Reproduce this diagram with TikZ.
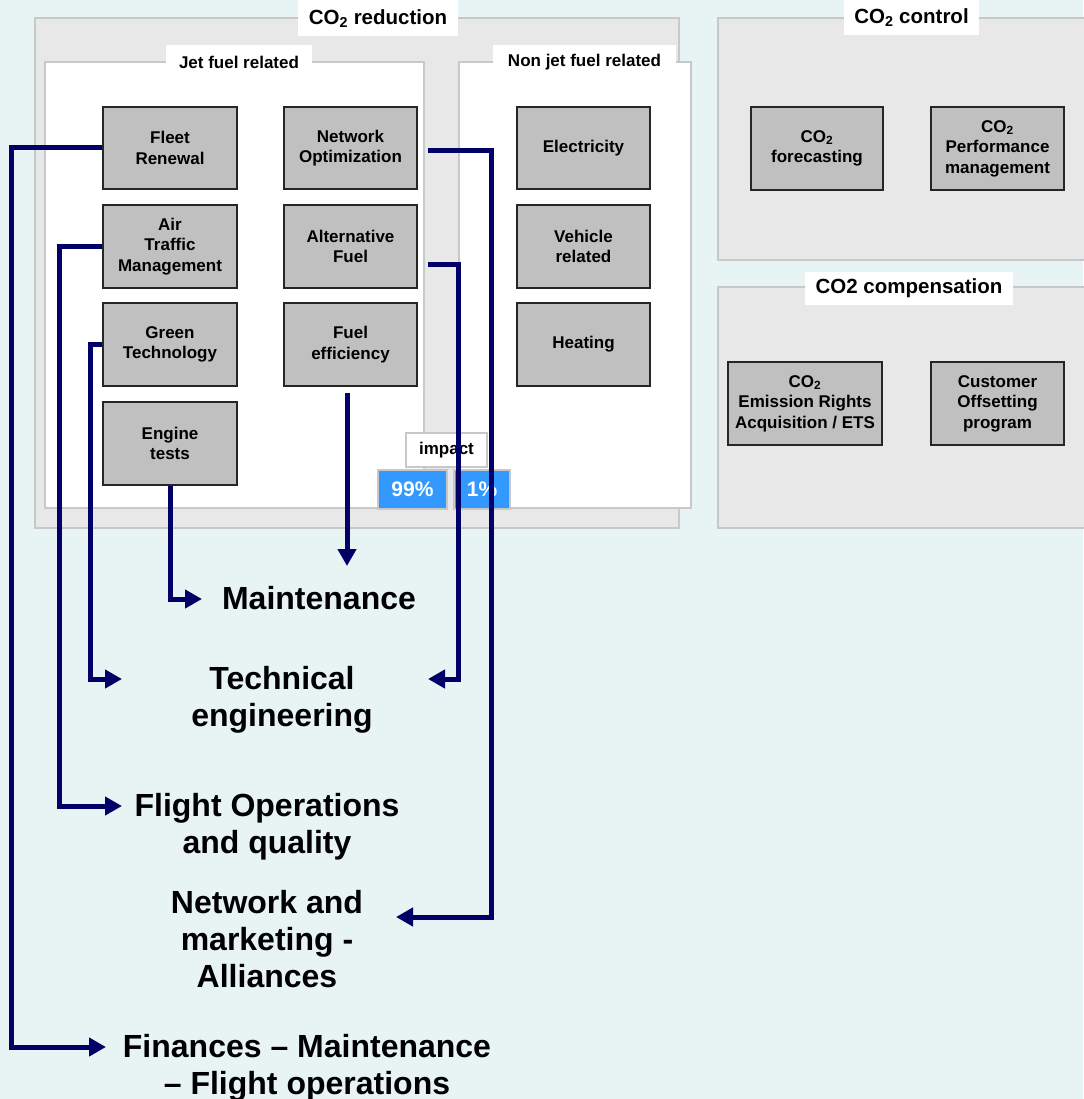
\documentclass[tikz,border=0pt]{standalone}
\usepackage{fontspec}
\setmainfont{Liberation Sans}
\usetikzlibrary{arrows.meta}
\definecolor{bgc}{HTML}{E8F4F4}
\definecolor{panel}{HTML}{E8E8E8}
\definecolor{edge}{HTML}{C8C8C8}
\definecolor{boxfill}{HTML}{C0C0C0}
\definecolor{navy}{HTML}{000066}
\definecolor{impblue}{HTML}{3399FF}
\newcommand{\COtwo}{CO\textsubscript{2}}
\begin{document}
\begin{tikzpicture}[x=1pt,y=-1pt,
  panelbox/.style={fill=panel,draw=edge,line width=1.5pt},
  groupbox/.style={fill=white,draw=edge,line width=1.5pt},
  headlab/.style={fill=white,inner sep=0pt,font=\bfseries\fontsize{20.5}{24}\selectfont},
  sublab/.style={fill=white,inner sep=0pt,font=\bfseries\fontsize{17}{20}\selectfont},
  actbox/.style={fill=boxfill,draw=black!85,line width=1.5pt,inner sep=0pt,align=center,
    font=\bfseries\fontsize{17}{20.5}\selectfont},
  target/.style={align=center,inner sep=0pt,font=\bfseries\fontsize{32}{37}\selectfont},
  pct/.style={fill=impblue,draw=edge,line width=1.5pt,inner sep=0pt,text=white,
    font=\bfseries\fontsize{21}{24}\selectfont},
  conn/.style={draw=navy,line width=5pt,line join=miter,
    -{Triangle[length=17pt,width=18pt]}}]

% canvas
\fill[bgc] (0,0) rectangle (1083,1099);
\useasboundingbox (0,0) rectangle (1083,1099);

% group panels
\draw[panelbox] (35,18) rectangle (679,528);
\draw[groupbox] (45,62) rectangle (424,508);
\draw[groupbox] (459,62) rectangle (691,508);
\draw[panelbox] (718,18) rectangle (1090,260);
\draw[panelbox] (718,287) rectangle (1090,528);

% panel titles
\node[headlab,minimum width=160pt,minimum height=36pt] (tred) at (378,18.5) {\COtwo{} reduction};
\node[sublab,minimum width=146pt,minimum height=34pt] (tjet) at (239,62.5) {Jet fuel related};
\node[sublab,minimum width=183pt,minimum height=34pt] (tnon) at (584.5,62.5) {Non jet fuel related};
\node[headlab,minimum width=135pt,minimum height=35pt] (tctl) at (911.5,18) {\COtwo{} control};
\node[headlab,minimum width=208pt,minimum height=33pt] (tcmp) at (909,288) {CO2 compensation};

% jet fuel related actions
\node[actbox,minimum width=134pt,minimum height=82pt] (fleet)   at (170,148)   {Fleet\\Renewal};
\node[actbox,minimum width=133pt,minimum height=82pt] (netopt)  at (350.5,148) {Network\\Optimization};
\node[actbox,minimum width=134pt,minimum height=83pt] (air)     at (170,246.5) {Air\\Traffic\\Management};
\node[actbox,minimum width=133pt,minimum height=83pt] (alt)     at (350.5,246.5) {Alternative\\Fuel};
\node[actbox,minimum width=134pt,minimum height=83pt] (green)   at (170,344.5) {Green\\Technology};
\node[actbox,minimum width=133pt,minimum height=83pt] (fueleff) at (350.5,344.5) {Fuel\\efficiency};
\node[actbox,minimum width=134pt,minimum height=83pt] (engine)  at (170,443.5) {Engine\\tests};

% non jet fuel related actions
\node[actbox,minimum width=133pt,minimum height=82pt] (elec)    at (583.5,148)   {Electricity};
\node[actbox,minimum width=133pt,minimum height=83pt] (vehicle) at (583.5,246.5) {Vehicle\\related};
\node[actbox,minimum width=133pt,minimum height=83pt] (heating) at (583.5,344.5) {Heating};

% control and compensation
\node[actbox,minimum width=132pt,minimum height=83pt] (forecast) at (817,148.5) {\COtwo\\forecasting};
\node[actbox,minimum width=133pt,minimum height=83pt] (perf)     at (997.5,148.5) {\COtwo\\Performance\\management};
\node[actbox,minimum width=154pt,minimum height=83pt] (ets)      at (805,403.5) {\COtwo\\Emission Rights\\Acquisition / ETS};
\node[actbox,minimum width=133pt,minimum height=83pt] (offset)   at (997.5,403.5) {Customer\\Offsetting\\program};

% impact split
\node[fill=white,draw=edge,line width=1.5pt,inner sep=0pt,minimum width=81pt,minimum height=34pt,
  font=\bfseries\fontsize{17}{20}\selectfont] (impact) at (446.5,450) {impact};
\node[pct,minimum width=69pt,minimum height=39pt] (p99) at (412.5,489.5) {99\%};
\node[pct,minimum width=56pt,minimum height=39pt] (p1)  at (482,489.5) {1\%};

% departments
\node[target] (maint) at (319,598) {Maintenance};
\node[target] (tech)  at (282,699.5) {Technical\\engineering};
\node[target] (flop)  at (267,826.5) {Flight Operations\\and quality};
\node[target] (netmk) at (267,939.5) {Network and\\marketing -\\Alliances};
\node[target] (fin)   at (307,1067.5) {Finances -- Maintenance\\-- Flight operations};

% arrow ends next to the department names
\coordinate (maintIn)  at (202,599);
\coordinate (maintTop) at (347,566);
\coordinate (techInL)  at (122,679);
\coordinate (techInR)  at (428,679);
\coordinate (flopIn)   at (122,806);
\coordinate (netIn)    at (396,917);
\coordinate (finIn)    at (106,1047);

% connectors
\draw[conn] (fleet.west) -- ++(-91,0) |- (finIn);
\draw[conn] (air.west) -- ++(-43,0) |- (flopIn);
\draw[conn] (green.west) -- ++(-12,0) |- (techInL);
\draw[conn] (engine.south) |- (maintIn);
\draw[conn] ([xshift=-3.5pt,yshift=-6pt]fueleff.south) -- (maintTop);
\draw[conn] ([xshift=10pt,yshift=-17.5pt]alt.east) -- ++(31,0) |- (techInR);
\draw[conn] ([xshift=10pt,yshift=-3pt]netopt.east) -- ++(64,0) |- (netIn);
\end{tikzpicture}
\end{document}
